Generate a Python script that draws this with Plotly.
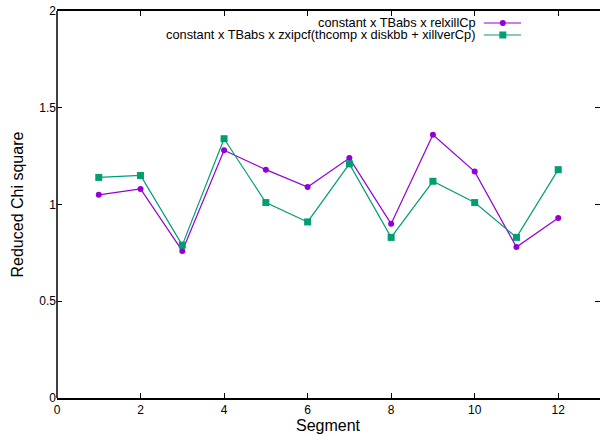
import plotly.graph_objects as go

segments = [1, 2, 3, 4, 5, 6, 7, 8, 9, 10, 11, 12]
relxill = [1.05, 1.08, 0.76, 1.28, 1.18, 1.09, 1.24, 0.90, 1.36, 1.17, 0.78, 0.93]
zxipcf = [1.14, 1.15, 0.79, 1.34, 1.01, 0.91, 1.21, 0.83, 1.12, 1.01, 0.83, 1.18]
names = ["constant x TBabs x relxillCp",
         "constant x TBabs x zxipcf(thcomp x diskbb + xillverCp)"]
colors = ["#9400d3", "#009e73"]
x_ticks = [0, 2, 4, 6, 8, 10, 12]
y_ticks = [0, 0.5, 1, 1.5, 2]
y_ticktext = ["0", "0.5", "1", "1.5", "2"]

FONT = "Liberation Sans, Arial, sans-serif"

fig = go.Figure()
fig.add_trace(go.Scatter(x=segments, y=relxill, mode="lines+markers", name=names[0],
                         line=dict(color=colors[0], width=1.2),
                         marker=dict(symbol="circle", size=6, color=colors[0])))
fig.add_trace(go.Scatter(x=segments, y=zxipcf, mode="lines+markers", name=names[1],
                         line=dict(color=colors[1], width=1.2),
                         marker=dict(symbol="square", size=7, color=colors[1])))

axis_common = dict(showgrid=False, zeroline=False, linecolor="black",
                   linewidth=1.5, mirror="ticks", ticks="inside", ticklen=5,
                   tickcolor="black", tickwidth=1,
                   tickfont=dict(family=FONT, size=12, color="black"))
fig.update_xaxes(range=[0, 13], tickvals=x_ticks, showline=True, **axis_common)
fig.update_yaxes(range=[0, 2], tickvals=y_ticks, ticktext=y_ticktext, showline=False,
                 **axis_common)

fig.update_layout(width=600, height=435, margin=dict(l=57, r=0, t=11, b=37),
                  plot_bgcolor="white", paper_bgcolor="white", showlegend=False)

# left border only (right border lies just outside the picture in the reference)
fig.add_shape(type="line", xref="paper", yref="paper", x0=0, x1=0, y0=0, y1=1,
              line=dict(color="black", width=1.5), layer="above")

# axis titles
fig.add_annotation(text="Segment", xref="paper", yref="paper", x=0.5, y=0,
                   xanchor="center", yanchor="top", yshift=-17, showarrow=False,
                   font=dict(family=FONT, size=16, color="black"))
fig.add_annotation(text="Reduced Chi square", xref="paper", yref="paper", x=0, y=0.5,
                   xanchor="center", yanchor="middle", xshift=-40, textangle=-90,
                   showarrow=False, font=dict(family=FONT, size=16, color="black"))

# custom legend (text right-aligned, sample on the right)
rows_y = [0.969, 0.938]
for i in range(2):
    fig.add_annotation(text=names[i], xref="paper", yref="paper", x=0.7745, y=rows_y[i],
                       xanchor="right", yanchor="middle", showarrow=False,
                       font=dict(family=FONT, size=12.8, color="black"))
    fig.add_shape(type="line", xref="paper", yref="paper", x0=0.786, x1=0.8545,
                  y0=rows_y[i], y1=rows_y[i], line=dict(color=colors[i], width=1.2))
fig.add_shape(type="circle", xref="paper", yref="paper", xsizemode="pixel", ysizemode="pixel",
              xanchor=0.821, yanchor=rows_y[0], x0=-3, x1=3, y0=-3, y1=3,
              fillcolor=colors[0], line=dict(width=0))
fig.add_shape(type="rect", xref="paper", yref="paper", xsizemode="pixel", ysizemode="pixel",
              xanchor=0.821, yanchor=rows_y[1], x0=-3.5, x1=3.5, y0=-3.5, y1=3.5,
              fillcolor=colors[1], line=dict(width=0))

fig.write_html("out.html")
